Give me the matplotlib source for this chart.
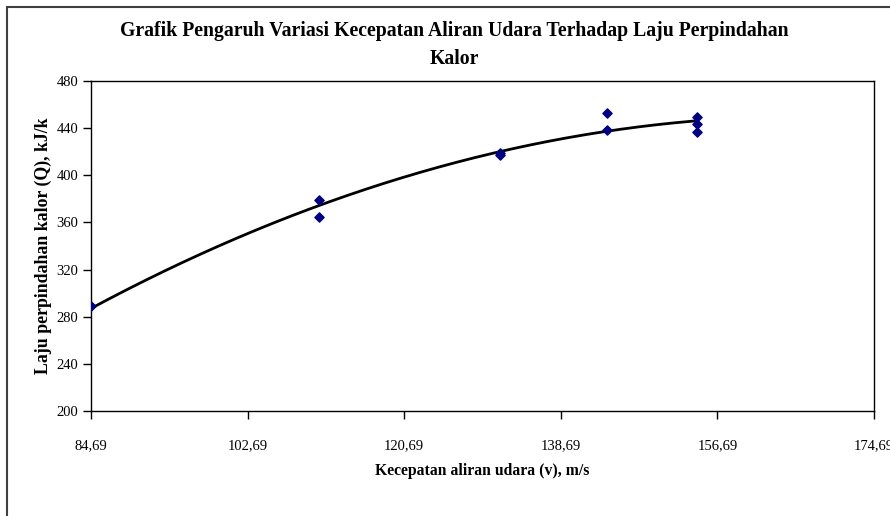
import numpy as np
import matplotlib.pyplot as plt
from matplotlib.patches import Rectangle

# data
kecepatan = [84.69, 110.84, 110.84, 131.7, 131.7, 144.0, 144.0, 154.3, 154.3, 154.3]
laju_kalor = [289, 379, 364.5, 419, 417, 452.8, 438.3, 449.4, 443.4, 436.6]

x_ticks = [84.69, 102.69, 120.69, 138.69, 156.69, 174.69]
y_ticks = [200, 240, 280, 320, 360, 400, 440, 480]

plt.rcParams['font.family'] = ['Liberation Serif', 'DejaVu Serif']

fig = plt.figure(figsize=(8.9, 5.16), dpi=100)
ax = fig.add_axes([91/890, 1 - 411/516, (874 - 91)/890, (411 - 81)/516])

# outer chart frame (only top and left visible)
fig.patches.append(Rectangle((7/890, -0.1), 1.2, 1 - 7/516 + 0.1, transform=fig.transFigure,
                             fill=False, edgecolor='#404040', linewidth=1.5))

# polynomial (order 2) trend line
coef = np.polyfit(kecepatan, laju_kalor, 2)
xs = np.linspace(min(kecepatan), max(kecepatan), 200)
ax.plot(xs, np.polyval(coef, xs), color='black', linewidth=2)

ax.scatter(kecepatan, laju_kalor, marker='D', s=22, color='#000080', zorder=3)

ax.set_xlim(x_ticks[0], x_ticks[-1])
ax.set_ylim(200, 480)
ax.set_xticks(x_ticks)
ax.set_xticklabels([("%.2f" % v).replace('.', ',') for v in x_ticks])
ax.set_yticks(y_ticks)
ax.tick_params(direction='out', length=6, width=1, labelsize=10.5)
ax.tick_params(axis='y', pad=3)
ax.tick_params(axis='x', pad=14)
for s in ax.spines.values():
    s.set_linewidth(1)

ax.set_xlabel('Kecepatan aliran udara (v), m/s', fontsize=11.3, fontweight='bold', labelpad=8)
ax.set_ylabel('Laju perpindahan kalor (Q), kJ/k', fontsize=12.8, fontweight='bold', labelpad=3)

fig.text(0.511, 1 - 31/516, 'Grafik Pengaruh Variasi Kecepatan Aliran Udara Terhadap Laju Perpindahan',
         ha='center', va='center', fontsize=14.2, fontweight='bold')
fig.text(0.511, 1 - 59/516, 'Kalor', ha='center', va='center', fontsize=14.2, fontweight='bold')

fig.savefig('out.png', dpi=100)
